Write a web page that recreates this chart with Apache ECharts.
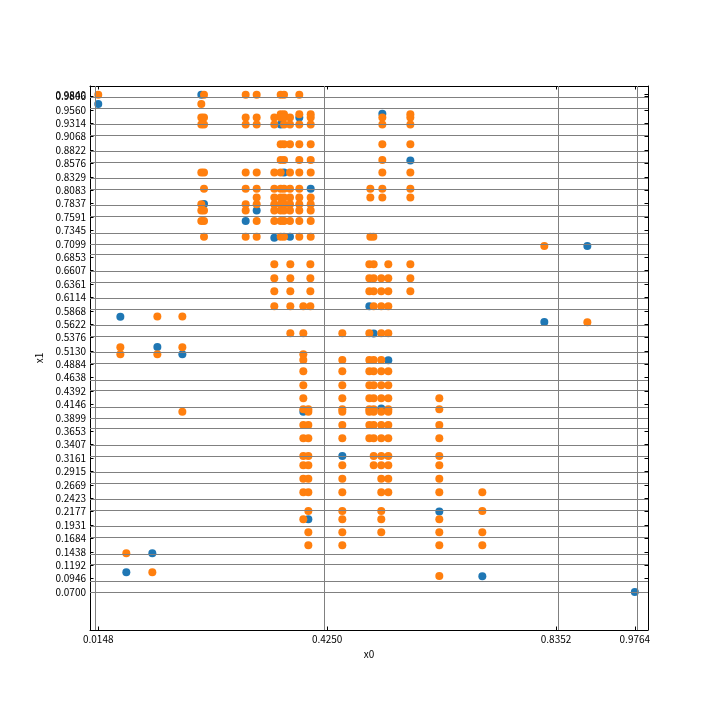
<!DOCTYPE html>
<html>
<head>
<meta charset="utf-8">
<script src="https://cdn.jsdelivr.net/npm/echarts@6/dist/echarts.min.js"></script>
<style>
html,body{margin:0;padding:0;background:#fff}
#main{width:720px;height:720px}
</style>
</head>
<body>
<div id="main"></div>
<script>
// tick positions shown on the axes
var xTicks = [0.0148, 0.4250, 0.8352, 0.9764];
var yTicks = [0.0700, 0.0946, 0.1192, 0.1438, 0.1684, 0.1931, 0.2177, 0.2423, 0.2669, 0.2915,
	0.3161, 0.3407, 0.3653, 0.3899, 0.4146, 0.4392, 0.4638, 0.4884, 0.5130, 0.5376,
	0.5622, 0.5868, 0.6114, 0.6361, 0.6607, 0.6853, 0.7099, 0.7345, 0.7591, 0.7837,
	0.8083, 0.8329, 0.8576, 0.8822, 0.9068, 0.9314, 0.9560, 0.9806, 0.9840];
// last y tick, drawn on its own axis so it is not dropped next to 0.9806
var yTopTick = [0.9840];

// blue series [x0, x1]
var bluePoints = [
	[0.1995, 0.984], [0.0148, 0.967], [0.5239, 0.949], [0.3751, 0.942], [0.3417, 0.929],
	[0.5741, 0.863], [0.3477, 0.841], [0.3955, 0.811], [0.2043, 0.783], [0.2987, 0.771],
	[0.2790, 0.752], [0.3303, 0.721], [0.3584, 0.723], [0.8913, 0.706], [0.5006, 0.595],
	[0.0544, 0.576], [0.8142, 0.566], [0.5084, 0.545], [0.1207, 0.520], [0.1655, 0.507],
	[0.5346, 0.496], [0.3823, 0.401], [0.5220, 0.407], [0.4522, 0.320], [0.6260, 0.218],
	[0.3913, 0.2035], [0.1117, 0.141], [0.0651, 0.106], [0.7031, 0.0986], [0.9764, 0.070]
];

// orange series, one row per x1 value: [x1, [x0 ...]]
var orangeRows = [
	[0.984, [0.0148, 0.2043, 0.2790, 0.2987, 0.3417, 0.3477, 0.3751]],
	[0.967, [0.1995]],
	[0.948, [0.3417, 0.3477, 0.3751, 0.3955, 0.5741]],
	[0.942, [0.1995, 0.2043, 0.2790, 0.2987, 0.3303, 0.3417, 0.3477, 0.3584, 0.3955, 0.5239, 0.5741]],
	[0.929, [0.1995, 0.2043, 0.2790, 0.2987, 0.3303, 0.3477, 0.3584, 0.3751, 0.3955, 0.5239, 0.5741]],
	[0.893, [0.3417, 0.3477, 0.3584, 0.3751, 0.3955, 0.5239, 0.5741]],
	[0.864, [0.3417, 0.3477, 0.3751, 0.3955, 0.5239]],
	[0.841, [0.1995, 0.2043, 0.2790, 0.2987, 0.3303, 0.3417, 0.3584, 0.3751, 0.3955, 0.5239, 0.5741]],
	[0.811, [0.2043, 0.2790, 0.2987, 0.3303, 0.3417, 0.3477, 0.3584, 0.3751, 0.5024, 0.5239, 0.5741]],
	[0.795, [0.2987, 0.3303, 0.3417, 0.3477, 0.3584, 0.3751, 0.3955, 0.5024, 0.5239, 0.5741]],
	[0.7825, [0.1995, 0.2790, 0.2987, 0.3303, 0.3417, 0.3477, 0.3584, 0.3751, 0.3955]],
	[0.771, [0.1995, 0.2043, 0.2790, 0.3303, 0.3417, 0.3477, 0.3584, 0.3751, 0.3955]],
	[0.752, [0.1995, 0.2043, 0.2987, 0.3303, 0.3417, 0.3477, 0.3584, 0.3751, 0.3955]],
	[0.723, [0.2043, 0.2790, 0.2987, 0.3417, 0.3477, 0.3751, 0.3955, 0.5024, 0.5078]],
	[0.7059, [0.8142]],
	[0.6725, [0.3303, 0.3590, 0.3949, 0.5006, 0.5084, 0.5346, 0.5741]],
	[0.6464, [0.3303, 0.3590, 0.3949, 0.5006, 0.5084, 0.5220, 0.5346, 0.5741]],
	[0.6225, [0.3303, 0.3590, 0.3949, 0.5006, 0.5084, 0.5220, 0.5346, 0.5741]],
	[0.595, [0.3303, 0.3590, 0.3823, 0.3949, 0.5084, 0.5220, 0.5346]],
	[0.5763, [0.1207, 0.1655]],
	[0.5656, [0.8913]],
	[0.5453, [0.3590, 0.3823, 0.4522, 0.5006, 0.5220, 0.5346]],
	[0.5196, [0.0544, 0.1655]],
	[0.5067, [0.0544, 0.1207, 0.3823]],
	[0.4963, [0.3823, 0.4522, 0.5006, 0.5084, 0.5220]],
	[0.4755, [0.3823, 0.4522, 0.5006, 0.5084, 0.5220, 0.5346]],
	[0.4498, [0.3823, 0.4522, 0.5006, 0.5084, 0.5220, 0.5346]],
	[0.4259, [0.3823, 0.4522, 0.5006, 0.5084, 0.5220, 0.5346, 0.6260]],
	[0.4056, [0.3823, 0.3913, 0.4522, 0.5006, 0.5084, 0.5346, 0.6260]],
	[0.4012, [0.1655, 0.3913, 0.4522, 0.5006, 0.5084, 0.5220, 0.5346]],
	[0.3768, [0.3823, 0.3913, 0.4522, 0.5006, 0.5084, 0.5220, 0.5346, 0.6260]],
	[0.3523, [0.3823, 0.3913, 0.4522, 0.5006, 0.5084, 0.5220, 0.5346, 0.6260]],
	[0.3199, [0.3823, 0.3913, 0.5084, 0.5220, 0.5346, 0.6260]],
	[0.3027, [0.3823, 0.3913, 0.4522, 0.5084, 0.5220, 0.5346, 0.6260]],
	[0.2782, [0.3823, 0.3913, 0.4522, 0.5220, 0.5346, 0.6260]],
	[0.2531, [0.3823, 0.3913, 0.4522, 0.5220, 0.5346, 0.6260, 0.7031]],
	[0.2188, [0.3913, 0.4522, 0.5220, 0.7031]],
	[0.2035, [0.3823, 0.4522, 0.5220, 0.6260]],
	[0.1795, [0.3913, 0.4522, 0.5220, 0.6260, 0.7031]],
	[0.1556, [0.3913, 0.4522, 0.6260, 0.7031]],
	[0.141, [0.0651]],
	[0.106, [0.1117]],
	[0.0993, [0.6260]]
];

var orangePoints = [];
for (var i = 0; i < orangeRows.length; i++) {
	for (var j = 0; j < orangeRows[i][1].length; j++) {
		orangePoints.push([orangeRows[i][1][j], orangeRows[i][0]]);
	}
}

var font = '"Noto Sans CJK SC", "Noto Sans", sans-serif';
var fmt = function (v) { return v.toFixed(4); };

//网格线
var gridLines = [];
for (var a = 0; a < xTicks.length; a++) gridLines.push({xAxis: xTicks[a]});
for (var b = 0; b < yTicks.length; b++) gridLines.push({yAxis: yTicks[b]});

function mainAxis(ticks, name, gap, show, pos) {
	return {
		type: 'value',
		position: pos,
		min: 0,
		max: 1,
		name: show ? name : '',
		nameLocation: 'middle',
		nameGap: gap,
		nameTextStyle: {color: '#000', fontSize: 10, fontFamily: font},
		axisLine: {show: true, onZero: false, lineStyle: {color: '#000', width: 1}},
		axisTick: {show: true, inside: true, length: 3.5, customValues: ticks, lineStyle: {color: '#000', width: 1}},
		axisLabel: {show: show, customValues: ticks, formatter: fmt, margin: 4, hideOverlap: false,
			color: '#000', fontSize: 10, fontFamily: font},
		splitLine: {show: false}
	};
}

var yExtra = mainAxis(yTopTick, '', 0, true, 'left');
yExtra.axisLine.show = false;
yExtra.axisTick.show = false;

var chart = echarts.init(document.getElementById('main'));
chart.setOption({
	animation: false,
	backgroundColor: '#fff',
	grid: {left: 90, right: 72, top: 86, bottom: 90, show: false},
	xAxis: [mainAxis(xTicks, 'x0', 14, true, 'bottom'), mainAxis(xTicks, '', 0, false, 'top')],
	yAxis: [mainAxis(yTicks, 'x1', 36, true, 'left'), mainAxis(yTicks, '', 0, false, 'right'), yExtra],
	series: [
		{
			name: 'blue', type: 'scatter', data: bluePoints, symbolSize: 8,
			itemStyle: {color: '#1f77b4', opacity: 1}, z: 2
		},
		{
			name: 'orange', type: 'scatter', data: orangePoints, symbolSize: 8,
			itemStyle: {color: '#ff7f0e', opacity: 1}, z: 3
		},
		{
			name: 'grid', type: 'scatter', data: [], silent: true, z: 4,
			markLine: {
				silent: true, animation: false, symbol: ['none', 'none'],
				label: {show: false},
				lineStyle: {color: '#808080', width: 1, type: 'solid'},
				emphasis: {disabled: true},
				data: gridLines
			}
		}
	]
});
</script>
</body>
</html>
